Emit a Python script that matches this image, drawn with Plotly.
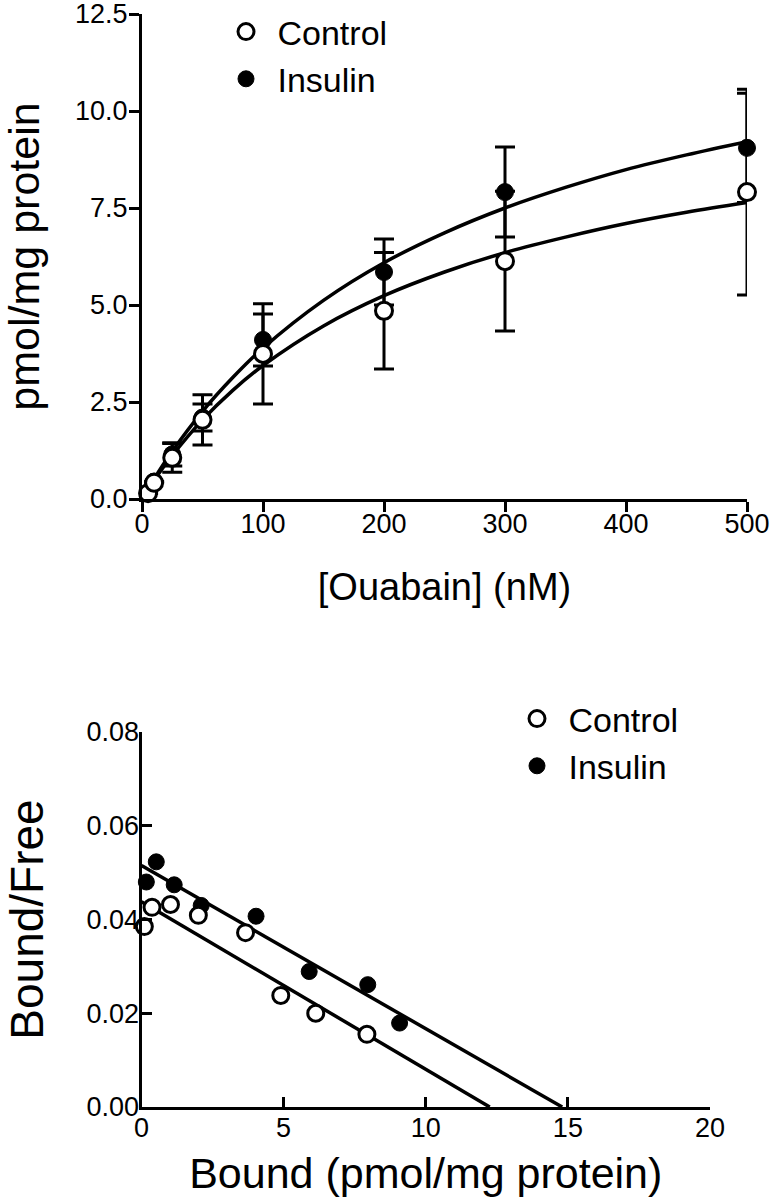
import plotly.graph_objects as go

# ---------------- Top panel: saturation binding ----------------
ouabain_nM = [5, 10, 25, 50, 100, 200, 300, 500]
control_bound = [0.15, 0.42, 1.06, 2.04, 3.74, 4.85, 6.13, 7.91]
control_err = [None, None, 0.37, 0.65, 1.29, 1.50, 1.80, 2.65]
insulin_bound = [0.15, 0.45, 1.15, 2.10, 4.10, 5.85, 7.91, 9.05]
insulin_err = [None, None, 0.30, 0.35, 0.67, 0.85, 1.16, 1.41]

# fitted curves
curve_x = [0, 10, 25, 50, 75, 100, 150, 200, 250, 300, 350, 400, 450, 500]
control_curve = [0, 0.48, 1.12, 2.04, 2.80, 3.44, 4.46, 5.24, 5.85, 6.35, 6.75, 7.10, 7.39, 7.64]
insulin_curve = [0, 0.52, 1.23, 2.26, 3.13, 3.89, 5.12, 6.09, 6.86, 7.50, 8.03, 8.49, 8.87, 9.21]

top_yticks = [0, 2.5, 5.0, 7.5, 10.0, 12.5]
top_xticks = [0, 100, 200, 300, 400, 500]

# ---------------- Bottom panel: Scatchard ----------------
sc_control_x = [0.10, 0.37, 1.02, 2.00, 3.66, 4.90, 6.13, 7.93]
sc_control_y = [0.0385, 0.0426, 0.0432, 0.0409, 0.0372, 0.0238, 0.0200, 0.0155]
sc_insulin_x = [0.17, 0.52, 1.15, 2.10, 4.03, 5.90, 7.96, 9.08]
sc_insulin_y = [0.0480, 0.0523, 0.0474, 0.0430, 0.0407, 0.0289, 0.0261, 0.0179]

fit_control_x = [0, 12.25]
fit_control_y = [0.0438, 0.0]
fit_insulin_x = [0, 14.8]
fit_insulin_y = [0.0515, 0.0]

bot_yticks = [0.0, 0.02, 0.04, 0.06, 0.08]
bot_xticks = [0, 5, 10, 15, 20]

FONT = "Liberation Sans, Arial, Helvetica, sans-serif"
LW = 3
W, H = 775, 1199


def px_x(p):
    return p / W


def px_y(p):
    return 1 - p / H


fig = go.Figure()

# top curves
fig.add_trace(go.Scatter(x=curve_x, y=insulin_curve, mode="lines", showlegend=False,
                         line=dict(color="black", width=3.5, shape="spline"),
                         xaxis="x", yaxis="y", hoverinfo="skip"))
fig.add_trace(go.Scatter(x=curve_x, y=control_curve, mode="lines", showlegend=False,
                         line=dict(color="black", width=3.5, shape="spline"),
                         xaxis="x", yaxis="y", hoverinfo="skip"))
# top points
fig.add_trace(go.Scatter(x=ouabain_nM, y=insulin_bound, mode="markers", name="Insulin",
                         legend="legend", legendrank=2,
                         marker=dict(symbol="circle", size=17, color="black",
                                     line=dict(color="black", width=1)),
                         error_y=dict(type="data", array=insulin_err, visible=True,
                                      color="black", thickness=LW, width=10),
                         xaxis="x", yaxis="y", cliponaxis=False))
fig.add_trace(go.Scatter(x=ouabain_nM, y=control_bound, mode="markers", name="Control",
                         legend="legend", legendrank=1,
                         marker=dict(symbol="circle", size=17, color="white",
                                     line=dict(color="black", width=3)),
                         error_y=dict(type="data", array=control_err, visible=True,
                                      color="black", thickness=LW, width=10),
                         xaxis="x", yaxis="y", cliponaxis=False))

# bottom fit lines
fig.add_trace(go.Scatter(x=fit_insulin_x, y=fit_insulin_y, mode="lines", showlegend=False,
                         line=dict(color="black", width=3.5), xaxis="x2", yaxis="y2",
                         hoverinfo="skip"))
fig.add_trace(go.Scatter(x=fit_control_x, y=fit_control_y, mode="lines", showlegend=False,
                         line=dict(color="black", width=3.5), xaxis="x2", yaxis="y2",
                         hoverinfo="skip"))
# bottom points
fig.add_trace(go.Scatter(x=sc_insulin_x, y=sc_insulin_y, mode="markers", name="Insulin",
                         legend="legend2", legendrank=2,
                         marker=dict(symbol="circle", size=16, color="black",
                                     line=dict(color="black", width=1)),
                         xaxis="x2", yaxis="y2", cliponaxis=False))
fig.add_trace(go.Scatter(x=sc_control_x, y=sc_control_y, mode="markers", name="Control",
                         legend="legend2", legendrank=1,
                         marker=dict(symbol="circle", size=16, color="white",
                                     line=dict(color="black", width=3)),
                         xaxis="x2", yaxis="y2", cliponaxis=False))

axis_common = dict(showline=True, linecolor="black", linewidth=LW, showgrid=False,
                   zeroline=False, tickcolor="black", tickwidth=LW, ticklen=10,
                   color="black", automargin=False, ticklabeloverflow="allow")

fig.update_layout(
    width=W, height=H,
    margin=dict(l=0, r=0, t=0, b=0),
    paper_bgcolor="white", plot_bgcolor="white",
    font=dict(family=FONT, color="black"),
    xaxis=dict(domain=[px_x(142), px_x(747)], range=[0, 500], tickvals=top_xticks,
               ticks="outside", anchor="y", ticklabelstandoff=-11,
               tickfont=dict(size=27),
               title=dict(text="[Ouabain] (nM)", font=dict(size=38), standoff=35),
               **axis_common),
    yaxis=dict(domain=[px_y(499), px_y(14)], range=[0, 12.5], tickvals=top_yticks,
               tickformat=".1f", ticks="outside", anchor="x", ticklabelstandoff=-4,
               tickfont=dict(size=27),
               title=dict(text="pmol/mg protein", font=dict(size=43), standoff=30),
               **axis_common),
    xaxis2=dict(domain=[px_x(141.5), px_x(710)], range=[0, 20], tickvals=bot_xticks,
                ticks="inside", anchor="y2", ticklabelstandoff=-5,
                tickfont=dict(size=27),
                title=dict(text="Bound (pmol/mg protein)", font=dict(size=43), standoff=16),
                **axis_common),
    yaxis2=dict(domain=[px_y(1107), px_y(732)], range=[0, 0.08], tickvals=bot_yticks,
                tickformat=".2f", ticks="inside", anchor="x2", ticklabelstandoff=-6,
                tickfont=dict(size=27),
                title=dict(text="Bound/Free", font=dict(size=46), standoff=29),
                **axis_common),
    legend=dict(x=px_x(214.5), y=px_y(3), xanchor="left", yanchor="top",
                font=dict(size=34), bgcolor="rgba(0,0,0,0)", itemwidth=53,
                traceorder="normal"),
    legend2=dict(x=px_x(505.5), y=px_y(690), xanchor="left", yanchor="top",
                 font=dict(size=34), bgcolor="rgba(0,0,0,0)", itemwidth=53,
                 traceorder="normal"),
)

# remove the browser's default 8px body margin so the figure sits at the page origin
fig.write_html("out.html", config={"displayModeBar": False},
               post_script="document.body.style.margin='0';")
